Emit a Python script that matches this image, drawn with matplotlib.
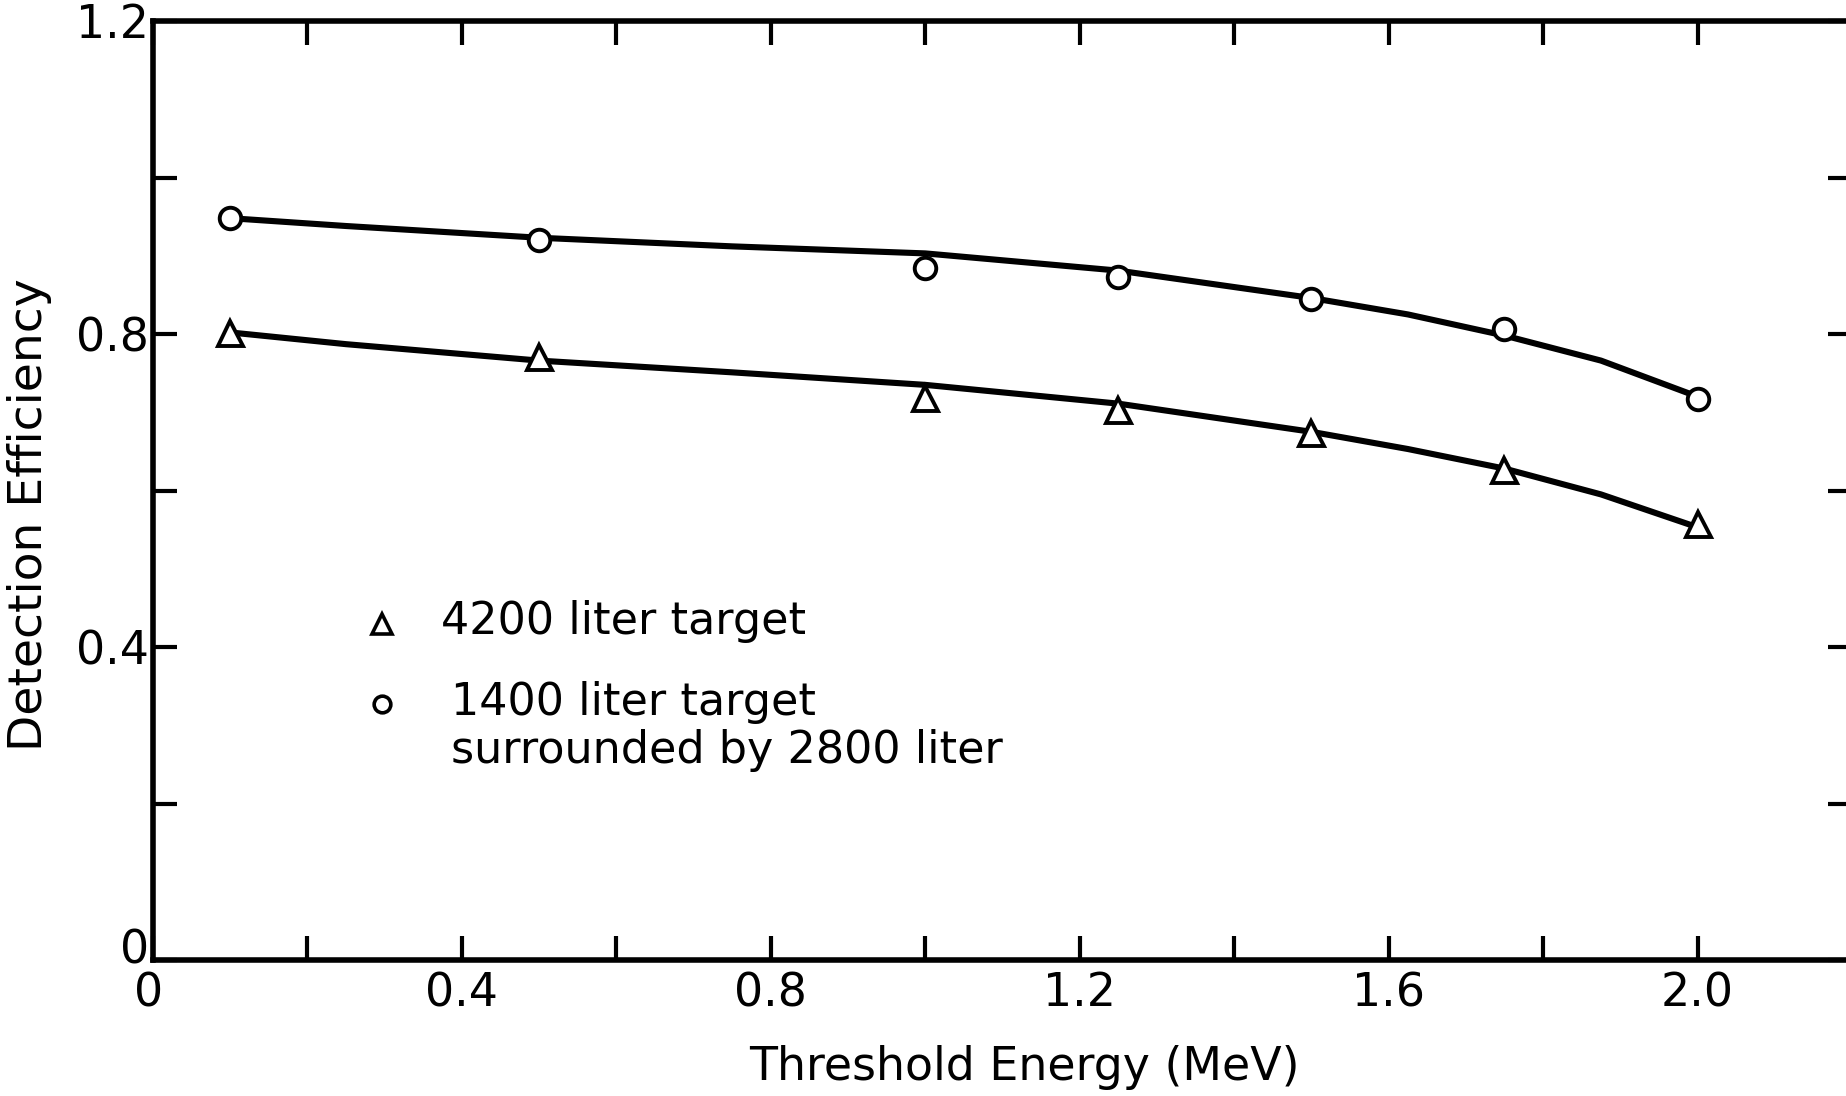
import matplotlib
matplotlib.use("Agg")
import matplotlib.pyplot as plt
from matplotlib.ticker import FixedLocator, FuncFormatter
import matplotlib.transforms as mtransforms

plt.rcParams['font.family'] = ['DejaVu Sans']

# Measured points
energy = [0.1, 0.5, 1.0, 1.25, 1.5, 1.75, 2.0]
eff_4200 = [0.801, 0.771, 0.718, 0.703, 0.673, 0.626, 0.557]
eff_1400 = [0.948, 0.920, 0.884, 0.873, 0.845, 0.807, 0.717]

# Hand-drawn smooth curves
curve_x = [0.1, 0.25, 0.5, 0.75, 1.0, 1.25, 1.5, 1.625, 1.75, 1.875, 2.0]
curve_4200 = [0.802, 0.787, 0.766, 0.751, 0.735, 0.711, 0.675, 0.653, 0.628, 0.595, 0.553]
curve_1400 = [0.948, 0.938, 0.923, 0.912, 0.903, 0.881, 0.846, 0.825, 0.798, 0.766, 0.720]

x_ticks = [0.0, 0.2, 0.4, 0.6, 0.8, 1.0, 1.2, 1.4, 1.6, 1.8, 2.0, 2.2]
x_labels = {0.0: "0", 0.4: "0.4", 0.8: "0.8", 1.2: "1.2", 1.6: "1.6", 2.0: "2.0"}
y_ticks = [0.0, 0.2, 0.4, 0.6, 0.8, 1.0, 1.2]
y_labels = {0.0: "0", 0.4: "0.4", 0.8: "0.8", 1.2: "1.2"}

legend_labels = ["4200 liter target", "1400 liter target\nsurrounded by 2800 liter"]

W, H = 1846, 1096
fig = plt.figure(figsize=(W / 100, H / 100), dpi=100)
left, bottom, top, right = 153, 960, 21, 1852
ax = fig.add_axes([left / W, 1 - bottom / H, (right - left) / W, (bottom - top) / H])

lw = 4.4
ax.plot(curve_x, curve_1400, color='black', lw=lw, solid_capstyle='round', solid_joinstyle='round', zorder=2)
ax.plot(curve_x, curve_4200, color='black', lw=lw, solid_capstyle='round', solid_joinstyle='round', zorder=2)
ax.plot(energy, eff_1400, linestyle='none', marker='o', ms=15.5, mfc='white', mec='black', mew=2.8, zorder=3)
ax.plot(energy, eff_4200, linestyle='none', marker='^', ms=18, mfc='white', mec='black', mew=2.8, zorder=3)

ax.set_xlim(0, 2.2)
ax.set_ylim(0, 1.2)

ax.xaxis.set_major_locator(FixedLocator(x_ticks))
ax.yaxis.set_major_locator(FixedLocator(y_ticks))
ax.xaxis.set_major_formatter(FuncFormatter(lambda v, p: x_labels.get(round(v, 1), "")))
ax.yaxis.set_major_formatter(FuncFormatter(lambda v, p: y_labels.get(round(v, 1), "")))

ax.tick_params(axis='both', direction='in', length=17, width=3.0, top=True, right=True,
               labelsize=33, color='black')
ax.tick_params(axis='x', pad=8)
ax.tick_params(axis='y', pad=3)
for s in ax.spines.values():
    s.set_linewidth(4.0)

# lift the y "0" label slightly, as in the reference
lab0 = ax.yaxis.get_major_ticks()[0].label1
lab0.set_transform(lab0.get_transform() + mtransforms.ScaledTranslation(0, 14 / 100, fig.dpi_scale_trans))
xlab0 = ax.xaxis.get_major_ticks()[0].label1
xlab0.set_transform(xlab0.get_transform() + mtransforms.ScaledTranslation(-4 / 100, 0, fig.dpi_scale_trans))

# legend drawn as text
ax.plot([0.297], [0.429], linestyle='none', marker='^', ms=15, mfc='white', mec='black', mew=2.6)
ax.plot([0.297], [0.327], linestyle='none', marker='o', ms=12, mfc='white', mec='black', mew=2.6)
ax.text(0.373, 0.432, legend_labels[0], fontsize=32, va='center', ha='left')
ax.text(0.386, 0.298, legend_labels[1], fontsize=32, va='center', ha='left', linespacing=1.15)

fig.text(1024 / W, 1 - 1068 / H, "Threshold Energy (MeV)", fontsize=33, ha='center', va='center')
fig.text(30 / W, 1 - 515 / H, "Detection Efficiency", rotation=90, fontsize=34,
         ha='center', va='center')

fig.savefig("out.png", dpi=100)
